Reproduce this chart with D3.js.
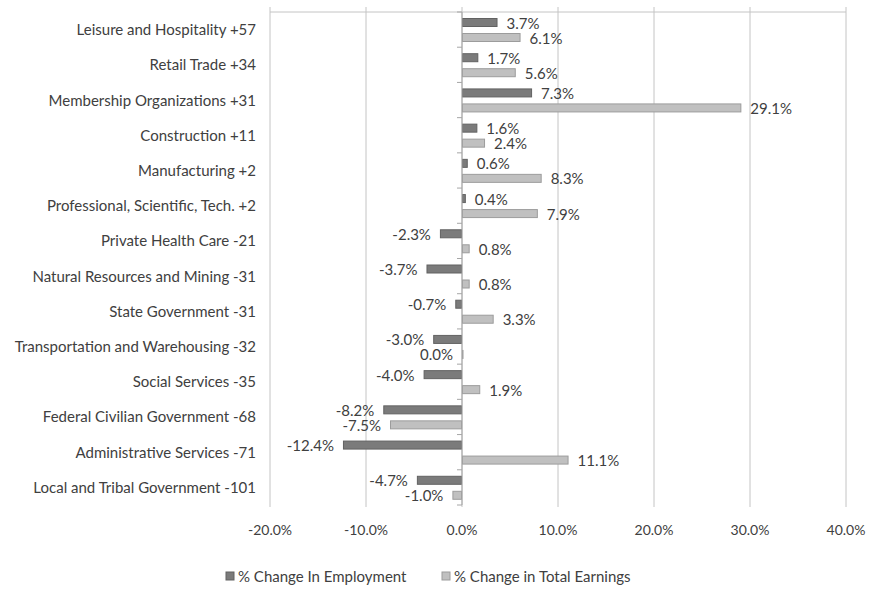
<!DOCTYPE html>
<html>
<head>
<meta charset="utf-8">
<script src="https://cdn.jsdelivr.net/npm/d3@7"></script>
<style>
  body { margin: 0; background: #fff; }
  text { font-family: Lato, "Open Sans", sans-serif; fill: #404040; }
</style>
</head>
<body>
<svg id="chart" width="870" height="616"></svg>
<script>
var categories = [
  "Leisure and Hospitality +57",
  "Retail Trade +34",
  "Membership Organizations +31",
  "Construction +11",
  "Manufacturing +2",
  "Professional, Scientific, Tech. +2",
  "Private Health Care -21",
  "Natural Resources and Mining -31",
  "State Government -31",
  "Transportation and Warehousing -32",
  "Social Services -35",
  "Federal Civilian Government -68",
  "Administrative Services -71",
  "Local and Tribal Government -101"
];
var employment = [3.7, 1.7, 7.3, 1.6, 0.6, 0.4, -2.3, -3.7, -0.7, -3.0, -4.0, -8.2, -12.4, -4.7];
var earnings = [6.1, 5.6, 29.1, 2.4, 8.3, 7.9, 0.8, 0.8, 3.3, 0.0, 1.9, -7.5, 11.1, -1.0];
var seriesNames = ["% Change In Employment", "% Change in Total Earnings"];
var xTicks = [-20, -10, 0, 10, 20, 30, 40];

var colors = { fill: ["#7b7b7b", "#c0c0c0"], stroke: ["#626262", "#9c9c9c"] };
var margin = { left: 270, right: 24, top: 12, bottom: 111 };
var W = 870, H = 616;

var svg = d3.select("#chart");

var x = d3.scaleLinear().domain([-20, 40]).range([margin.left, W - margin.right]);
var y = d3.scaleBand().domain(categories).range([margin.top, H - margin.bottom]);
var inner = d3.scaleBand().domain([0, 1]).range([6, 30]).paddingInner(0.4);

// vertical gridlines
svg.append("g").selectAll("line").data(xTicks).enter().append("line")
  .attr("x1", d => x(d)).attr("x2", d => x(d))
  .attr("y1", margin.top - 5).attr("y2", H - margin.bottom + 2)
  .attr("stroke", "#c4c4c4").attr("stroke-width", 1);
svg.append("line")
  .attr("x1", x(-20)).attr("x2", x(40))
  .attr("y1", margin.top).attr("y2", margin.top)
  .attr("stroke", "#c4c4c4");

// x tick labels
svg.append("g").selectAll("text").data(xTicks).enter().append("text")
  .attr("x", d => x(d)).attr("y", 535)
  .attr("text-anchor", "middle").style("font-size", "14px")
  .text(d => d.toFixed(1) + "%");

// category labels
svg.append("g").selectAll("text").data(categories).enter().append("text")
  .attr("x", margin.left - 14).attr("y", d => y(d) + y.bandwidth() / 2 + 5.5)
  .attr("text-anchor", "end").style("font-size", "15px")
  .text(d => d);

// bars
var rows = categories.map(function(c, i) { return { cat: c, vals: [employment[i], earnings[i]] }; });
var g = svg.append("g").selectAll("g").data(rows).enter().append("g")
  .attr("transform", d => "translate(0," + y(d.cat) + ")");

g.selectAll("rect").data(d => d.vals.map((v, k) => ({ v: v, k: k }))).enter().append("rect")
  .attr("x", d => Math.min(x(0), x(d.v)) + 0.5)
  .attr("y", d => inner(d.k) + 0.5)
  .attr("width", d => Math.max(Math.abs(x(d.v) - x(0)) - 1, 0.5))
  .attr("height", inner.bandwidth() - 1)
  .attr("fill", d => colors.fill[d.k])
  .attr("stroke", d => colors.stroke[d.k]);

g.selectAll("text").data(d => d.vals.map((v, k) => ({ v: v, k: k }))).enter().append("text")
  .attr("x", d => d.v > 0 ? x(d.v) + 9 : x(d.v) - 9)
  .attr("y", d => inner(d.k) + inner.bandwidth() / 2 + 6)
  .attr("text-anchor", d => d.v > 0 ? "start" : "end")
  .style("font-size", "15px")
  .text(d => d.v.toFixed(1) + "%");

// y axis at zero
var ax = svg.append("g");
ax.append("line")
  .attr("x1", x(0)).attr("x2", x(0))
  .attr("y1", margin.top).attr("y2", H - margin.bottom)
  .attr("stroke", "#a6a6a6");
ax.selectAll("line.tick").data(categories.concat(["end"])).enter().append("line")
  .attr("class", "tick")
  .attr("x1", x(0) - 5).attr("x2", x(0))
  .attr("y1", (d, i) => margin.top + i * y.step()).attr("y2", (d, i) => margin.top + i * y.step())
  .attr("stroke", "#a6a6a6");

// legend
var legX = [226, 442];
var leg = svg.append("g").selectAll("g").data(seriesNames).enter().append("g")
  .attr("transform", (d, i) => "translate(" + legX[i] + ",572)");
leg.append("rect").attr("width", 8).attr("height", 8)
  .attr("fill", (d, i) => colors.fill[i]).attr("stroke", (d, i) => colors.stroke[i]);
leg.append("text").attr("x", 12).attr("y", 9.5).style("font-size", "15px").text(d => d);
</script>
</body>
</html>
